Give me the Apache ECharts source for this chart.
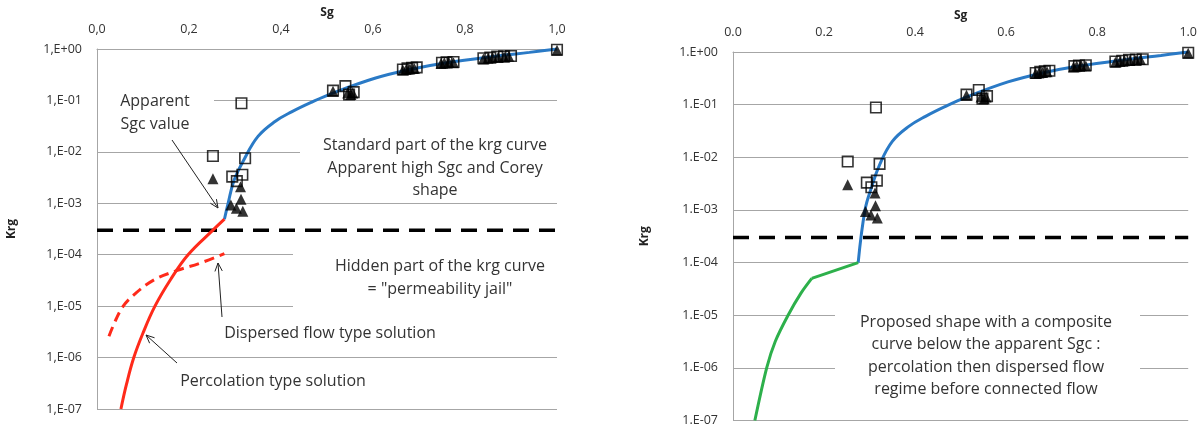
<!DOCTYPE html>
<html><head><meta charset="utf-8">
<script src="https://cdn.jsdelivr.net/npm/echarts@6/dist/echarts.min.js"></script>
<style>html,body{margin:0;padding:0;background:#fff}#c{width:1200px;height:427px}</style>
</head><body><div id="c"></div>
<script>
// ---- data (Sg, Krg) ----
const xTickValues = [0, 0.2, 0.4, 0.6, 0.8, 1.0];
const yTickExponents = [0, -1, -2, -3, -4, -5, -6, -7];
const squares = [
  [0.252,0.0083],[0.294,0.0033],[0.304,0.0027],[0.316,0.0036],[0.322,0.0075],[0.314,0.088],
  [0.513,0.155],[0.54,0.19],[0.558,0.145],[0.548,0.13],
  [0.665,0.40],[0.675,0.42],[0.685,0.43],[0.695,0.44],
  [0.75,0.54],[0.76,0.55],[0.775,0.56],
  [0.84,0.66],[0.855,0.68],[0.87,0.71],[0.885,0.72],[0.9,0.73],
  [1.0,0.97]
];
const triangles = [
  [0.252,0.003],[0.312,0.0021],[0.313,0.0012],[0.291,0.00093],[0.303,0.0008],[0.317,0.0007],
  [0.513,0.15],[0.545,0.14],[0.552,0.13],[0.556,0.14],
  [0.665,0.39],[0.672,0.40],[0.68,0.41],[0.69,0.42],
  [0.748,0.52],[0.755,0.54],[0.765,0.55],[0.775,0.54],
  [0.84,0.64],[0.85,0.66],[0.86,0.68],[0.872,0.69],[0.885,0.70],[0.895,0.72],
  [1.0,0.95]
];
const coreyLeft = [
  [0.277,0.00049],[0.285,0.001],[0.298,0.0028],[0.32,0.0072],[0.35,0.020],[0.387,0.039],
  [0.423,0.060],[0.467,0.093],[0.51,0.136],[0.604,0.27],[0.68,0.40],[0.76,0.54],
  [0.87,0.73],[0.94,0.86],[1.0,1.0]
];
const coreyRight = [
  [0.275,0.0001],[0.29,0.001],[0.305,0.0028],[0.322,0.0072],[0.35,0.020],[0.387,0.039],
  [0.423,0.060],[0.467,0.093],[0.51,0.136],[0.604,0.27],[0.68,0.40],[0.76,0.54],
  [0.87,0.73],[0.94,0.86],[1.0,1.0]
];
const percolation = [
  [0.052,1e-7],[0.064,3e-7],[0.08,1e-6],[0.1,3e-6],[0.126,1e-5],[0.16,3.3e-5],[0.198,1e-4],[0.252,3e-4],[0.277,0.00049]
];
const dispersed = [
  [0.026,2.6e-6],[0.04,5.2e-6],[0.057,1e-5],[0.08,1.65e-5],[0.123,3.2e-5],[0.173,4.9e-5],[0.223,6.8e-5],[0.277,1.05e-4]
];
const compositePercolation = [
  [0.048,1e-7],[0.074,1e-6],[0.093,3.2e-6],[0.121,1e-5],[0.149,2.6e-5],[0.173,5e-5]
];
const compositeDispersed = [[0.173,5e-5],[0.275,1e-4]];
const apparentSgcLevel = [[0,3e-4],[1,3e-4]];

// ---- chart ----
const FONT = '"Open Sans"';
const GRID_C = '#a6a6a6';
const BLUE = '#2a7ac6', RED = '#ff2a1a', GREEN = '#2db04b';

function yFmt(sep){ return v => { const e = Math.round(Math.log10(v)); return yTickExponents.includes(e) ? '1'+sep+'E'+(e>=0?'+':'-')+String(Math.abs(e)).padStart(2,'0') : ''; }; }
function xFmt(sep){ return v => xTickValues.some(t=>Math.abs(t-v)<1e-9) ? v.toFixed(1).replace('.',sep) : ''; }

function xAx(gi, sep){ return {gridIndex:gi,type:'value',position:'top',min:0,max:1,interval:0.2,
  name:'Sg',nameLocation:'middle',nameGap:30,nameTextStyle:{fontFamily:FONT,fontSize:12,fontWeight:'bold',color:'#222'},
  axisLine:{show:true,lineStyle:{color:GRID_C}},axisTick:{show:false},splitLine:{show:false},
  axisLabel:{formatter:xFmt(sep),fontFamily:FONT,fontSize:12.5,color:'#333',margin:13}}; }
function yAx(gi, sep, gap){ return {gridIndex:gi,type:'log',logBase:10,min:1e-7,max:1,
  name:'Krg',nameLocation:'middle',nameRotate:90,nameGap:gap,nameTextStyle:{fontFamily:FONT,fontSize:12,fontWeight:'bold',color:'#222'},
  axisLine:{show:true,lineStyle:{color:GRID_C}},axisTick:{show:false},
  splitLine:{show:true,lineStyle:{color:GRID_C,width:1}},
  axisLabel:{formatter:yFmt(sep),fontFamily:FONT,fontSize:12.5,color:'#333',margin:15}}; }

function lineS(gi, data, color, type, smooth){
  return {type:'line',xAxisIndex:gi,yAxisIndex:gi,data,symbol:'none',smooth:smooth||false,
    lineStyle:{color,width:3,type:type||'solid'},z:4};
}
function seriesFor(gi, corey, extra){
  const s = [
    {type:'line',xAxisIndex:gi,yAxisIndex:gi,data:apparentSgcLevel,symbol:'none',lineStyle:{color:'#000',width:3.5,type:[16,10]},z:3},
    lineS(gi, corey, BLUE, 'solid', 0.4)
  ].concat(extra);
  s.push({type:'scatter',xAxisIndex:gi,yAxisIndex:gi,data:triangles,symbol:'triangle',symbolSize:11,itemStyle:{color:'#000'},z:6});
  s.push({type:'scatter',xAxisIndex:gi,yAxisIndex:gi,data:squares,symbol:'rect',symbolSize:10.5,itemStyle:{color:'rgba(0,0,0,0)',borderColor:'#000',borderWidth:1.6},z:7});
  return s;
}

function arrow(x1,y1,x2,y2){
  const a = Math.atan2(y2-y1,x2-x1), L=9, w=0.42;
  return [
    {type:'line',z:20,shape:{x1,y1,x2,y2},style:{stroke:'#222',lineWidth:1}},
    {type:'polyline',z:20,shape:{points:[[x2-L*Math.cos(a-w),y2-L*Math.sin(a-w)],[x2,y2],[x2-L*Math.cos(a+w),y2-L*Math.sin(a+w)]]},style:{stroke:'#222',lineWidth:1,fill:null}}
  ];
}
function box(x,y,w,h){ return {type:'rect',z:1,shape:{x,y,width:w,height:h},style:{fill:'#fff'}}; }
function txt(x,y,t,size){ return {type:'text',z:20,x,y,style:{text:t,fill:'#333',font:(size||16)+'px '+FONT,
  align:'center',textAlign:'center',verticalAlign:'middle',textVerticalAlign:'middle',lineHeight:22.5}}; }

const graphics = [
  box(98,88,116,48), box(300,134,258,62), box(293,244,265,70), box(835,306,305,96),
  txt(155,113,'Apparent\nSgc value'),
  txt(435,168,'Standard part of the krg curve\nApparent high Sgc and Corey\nshape'),
  txt(440,278,'Hidden part of the krg curve\n= "permeability jail"'),
  txt(330,333,'Dispersed flow type solution'),
  txt(273,381,'Percolation type solution'),
  txt(986,356,'Proposed shape with a composite\ncurve below the apparent Sgc :\npercolation then dispersed flow\nregime before connected flow')
].concat(arrow(172,140,218,208), arrow(222,317,218,263), arrow(177,363,146,335));

const chart = echarts.init(document.getElementById('c'), null, {renderer:'canvas'});
chart.setOption({
  animation:false,
  backgroundColor:'#fff',
  grid:[{left:97,right:643,top:49,bottom:18},{left:733,right:4,top:52,bottom:4}],
  xAxis:[xAx(0,','),xAx(1,'.')],
  yAxis:[yAx(0,',',79),yAx(1,'.',82)],
  series: seriesFor(0, coreyLeft, [
      lineS(0, percolation, RED, 'solid', 0.4),
      lineS(0, dispersed, RED, [10,6], 0.4)
    ]).concat(seriesFor(1, coreyRight, [
      lineS(1, compositePercolation, GREEN, 'solid', 0.3),
      lineS(1, compositeDispersed, GREEN, 'solid', false)
    ])),
  graphic: graphics
});
</script></body></html>
